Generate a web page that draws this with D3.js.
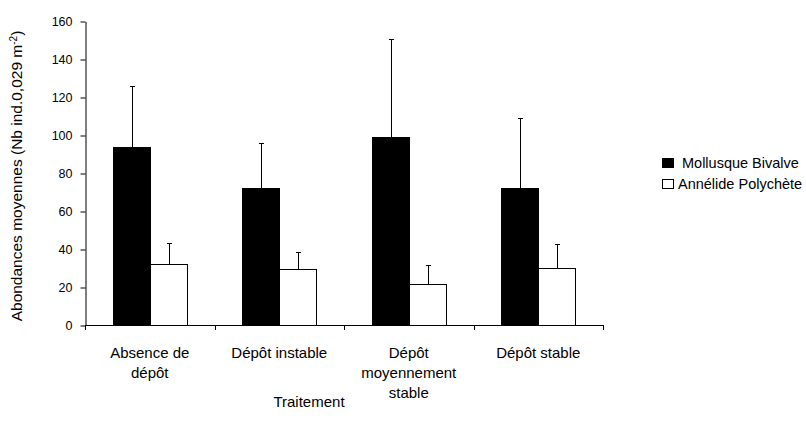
<!DOCTYPE html>
<html><head><meta charset="utf-8">
<script src="https://cdn.jsdelivr.net/npm/d3@7/dist/d3.min.js"></script>
<style>body{margin:0;background:#fff}svg{display:block}text{font-family:"Liberation Sans",Arial,sans-serif;fill:#000}</style>
</head><body>
<script>
const categories = [["Absence de","dépôt"],["Dépôt instable"],["Dépôt","moyennement","stable"],["Dépôt stable"]];
const seriesNames = ["Mollusque Bivalve","Annélide Polychète"];
const bivalve = [93.5, 72.3, 99.1, 71.9];
const bivalveErr = [32.5, 23.3, 51.3, 36.9];
const polychete = [32, 29.6, 21.6, 30];
const polycheteErr = [11.3, 9, 10.1, 12.8];
const yTicks = [0,20,40,60,80,100,120,140,160];
const colors = ["#000000","#ffffff"];

(function(){
const W=806,H=421;
const svg=d3.select("body").append("svg").attr("width",W).attr("height",H);
const pL=85,pR=603,pT=21,pB=325;
const x=d3.scaleBand().domain(d3.range(categories.length)).range([pL,pR]).paddingInner(0).paddingOuter(0);
const y=d3.scaleLinear().domain([0,160]).range([pB,pT]);
const barW=37;
const series=[{v:bivalve,e:bivalveErr},{v:polychete,e:polycheteErr}];

series.forEach((s,si)=>{
  s.v.forEach((val,i)=>{
    const cx=x(i)+x.bandwidth()/2;
    const bx=Math.round(cx-barW+si*barW);
    const yt=Math.round(y(val)), ye=Math.round(y(val+s.e[i]));
    svg.append("rect").attr("x",bx+0.5).attr("y",yt+0.5)
      .attr("width",barW).attr("height",Math.round(y(0))-yt)
      .attr("fill",colors[si]).attr("stroke","#000").attr("stroke-width",1);
    const ex=Math.round(bx+barW/2)+0.5;
    svg.append("line").attr("x1",ex).attr("x2",ex).attr("y1",yt).attr("y2",ye+0.5).attr("stroke","#000");
    svg.append("line").attr("x1",ex-2.5).attr("x2",ex+2.5).attr("y1",ye+0.5).attr("y2",ye+0.5).attr("stroke","#000");
  });
});

const ya=svg.append("g").attr("transform",`translate(${pL+0.5},0.5)`)
  .call(d3.axisLeft(y).tickValues(yTicks).tickSize(5).tickPadding(8).tickSizeOuter(0));
ya.select(".domain").attr("stroke","#000");
ya.selectAll("line").attr("stroke","#000");
ya.selectAll("text").attr("font-size","12.5px").attr("font-family","Liberation Sans, Arial").attr("fill","#000");

const boundaries=d3.range(categories.length+1).map(i=>pL+i*x.bandwidth());
svg.append("line").attr("x1",pL).attr("x2",pR).attr("y1",pB+0.5).attr("y2",pB+0.5).attr("stroke","#000");
boundaries.forEach(b=>svg.append("line").attr("x1",Math.round(b)+0.5).attr("x2",Math.round(b)+0.5).attr("y1",pB).attr("y2",pB+5).attr("stroke","#000"));
categories.forEach((lines,i)=>{
  const cx=x(i)+x.bandwidth()/2;
  const t=svg.append("text").attr("x",cx).attr("y",358).attr("text-anchor","middle").attr("font-size","15px");
  lines.forEach((l,j)=>t.append("tspan").attr("x",cx).attr("dy",j?20:0).text(l));
});
svg.append("text").attr("x",309).attr("y",407).attr("text-anchor","middle").attr("font-size","15px").text("Traitement");

const yt=svg.append("text").attr("transform","translate(22,176) rotate(-90)").attr("text-anchor","middle").attr("font-size","15.5px");
yt.append("tspan").text("Abondances moyennes (Nb ind.0,029 m");
yt.append("tspan").attr("font-size","10px").attr("dy",-5).text("-2");
yt.append("tspan").attr("dy",5).text(")");

const lg=[{y:158,tx:682},{y:179,tx:678}];
seriesNames.forEach((n,i)=>{
  svg.append("rect").attr("x",662.5).attr("y",lg[i].y+0.5).attr("width",11).attr("height",9).attr("fill",colors[i]).attr("stroke","#000");
  svg.append("text").attr("x",lg[i].tx).attr("y",lg[i].y+9.5).attr("font-size","14.5px").text(n);
});
})();
</script>
</body></html>
